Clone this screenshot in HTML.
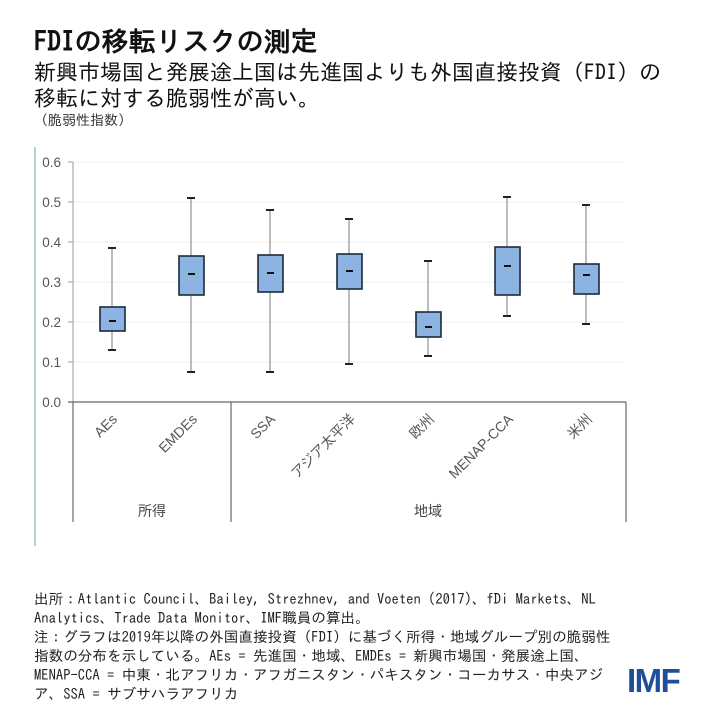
<!DOCTYPE html>
<html><head><meta charset="utf-8"><style>
body{margin:0;width:720px;height:720px;background:#fff;overflow:hidden;position:relative;font-family:"IPAGothic","Noto Sans CJK JP",sans-serif;}
.t{position:absolute;white-space:nowrap;color:#111;}
</style></head><body>
<div class="t" style="left:34px;top:28px;font-size:27px;font-weight:bold;">FDIの移転リスクの測定</div>
<div class="t" style="left:34px;top:61px;font-size:22px;">新興市場国と発展途上国は先進国よりも外国直接投資（FDI）の</div>
<div class="t" style="left:34px;top:87px;font-size:22px;">移転に対する脆弱性が高い。</div>
<div class="t" style="left:34px;top:113px;font-size:14px;color:#333;">（脆弱性指数）</div>
<svg width="720" height="720" style="position:absolute;left:0;top:0" font-family="Liberation Sans, Noto Sans CJK JP, sans-serif">
<line x1="35" y1="147" x2="35" y2="546" stroke="#6aa3a8" stroke-width="1"/>
<g stroke="#eeeeee" stroke-width="1">
<line x1="73" x2="625" y1="162" y2="162"/><line x1="73" x2="625" y1="202" y2="202"/><line x1="73" x2="625" y1="242" y2="242"/><line x1="73" x2="625" y1="282" y2="282"/><line x1="73" x2="625" y1="322" y2="322"/><line x1="73" x2="625" y1="362" y2="362"/>
</g>
<g fill="#555" font-size="13.5" text-anchor="end">
<text x="61" y="167">0.6</text><text x="61" y="207">0.5</text><text x="61" y="247">0.4</text><text x="61" y="287">0.3</text><text x="61" y="327">0.2</text><text x="61" y="367">0.1</text><text x="61" y="407">0.0</text>
</g>
<g stroke="#999" stroke-width="1"><line x1="73" y1="162" x2="73" y2="402"/><line x1="68" y1="162" x2="73" y2="162"/><line x1="68" y1="202" x2="73" y2="202"/><line x1="68" y1="242" x2="73" y2="242"/><line x1="68" y1="282" x2="73" y2="282"/><line x1="68" y1="322" x2="73" y2="322"/><line x1="68" y1="362" x2="73" y2="362"/></g>
<g stroke="#666" stroke-width="1.2"><line x1="68" y1="402" x2="626" y2="402"/><line x1="73" y1="402" x2="73" y2="522"/><line x1="231" y1="402" x2="231" y2="522"/><line x1="626" y1="402" x2="626" y2="522"/></g>
<g stroke="#999" stroke-width="1.3">
<line x1="112" y1="248" x2="112" y2="350"/><line x1="191" y1="198" x2="191" y2="372"/><line x1="270" y1="210" x2="270" y2="372"/><line x1="349" y1="219" x2="349" y2="364"/><line x1="428" y1="261" x2="428" y2="356"/><line x1="507" y1="197" x2="507" y2="316"/><line x1="586" y1="205" x2="586" y2="324"/>
</g>
<g stroke="#222" stroke-width="2">
<line x1="108" x2="116" y1="248" y2="248"/><line x1="108" x2="116" y1="350" y2="350"/>
<line x1="187" x2="195" y1="198" y2="198"/><line x1="187" x2="195" y1="372" y2="372"/>
<line x1="266" x2="274" y1="210" y2="210"/><line x1="266" x2="274" y1="372" y2="372"/>
<line x1="345" x2="353" y1="219" y2="219"/><line x1="345" x2="353" y1="364" y2="364"/>
<line x1="424" x2="432" y1="261" y2="261"/><line x1="424" x2="432" y1="356" y2="356"/>
<line x1="503" x2="511" y1="197" y2="197"/><line x1="503" x2="511" y1="316" y2="316"/>
<line x1="582" x2="590" y1="205" y2="205"/><line x1="582" x2="590" y1="324" y2="324"/>
</g>
<g fill="#8db3e2" stroke="#1a2a3a" stroke-width="1.6">
<rect x="100" y="307" width="25" height="24"/>
<rect x="179" y="256" width="25" height="39"/>
<rect x="258" y="255" width="25" height="37"/>
<rect x="337" y="254" width="25" height="35"/>
<rect x="416" y="312" width="25" height="25"/>
<rect x="495" y="247" width="25" height="48"/>
<rect x="574" y="264" width="25" height="30"/>
</g>
<g stroke="#111" stroke-width="2">
<line x1="109" x2="116" y1="321" y2="321"/><line x1="188" x2="195" y1="274" y2="274"/><line x1="267" x2="274" y1="273" y2="273"/><line x1="346" x2="353" y1="271" y2="271"/><line x1="425" x2="432" y1="327" y2="327"/><line x1="504" x2="511" y1="266" y2="266"/><line x1="583" x2="590" y1="275" y2="275"/>
</g>
<g fill="#555" font-size="14" text-anchor="end">
<text transform="translate(118,420) rotate(-45)">AEs</text>
<text transform="translate(198,420) rotate(-45)">EMDEs</text>
<text transform="translate(276,420) rotate(-45)">SSA</text>
<text transform="translate(356,420) rotate(-45)">アジア太平洋</text>
<text transform="translate(435,420) rotate(-45)">欧州</text>
<text transform="translate(514,420) rotate(-45)">MENAP-CCA</text>
<text transform="translate(593,420) rotate(-45)">米州</text>
</g>
<g fill="#444" font-size="14" text-anchor="middle">
<text x="152" y="516">所得</text><text x="428" y="516">地域</text>
</g>
</svg>
<div class="t" style="left:34px;top:589px;font-size:14.6px;line-height:19px;color:#222;">
出所：Atlantic Council、Bailey, Strezhnev, and Voeten (2017)、fDi Markets、NL<br>
Analytics、Trade Data Monitor、IMF職員の算出。<br>
注：グラフは2019年以降の外国直接投資（FDI）に基づく所得・地域グループ別の脆弱性<br>
指数の分布を示している。AEs = 先進国・地域、EMDEs = 新興市場国・発展途上国、<br>
MENAP-CCA = 中東・北アフリカ・アフガニスタン・パキスタン・コーカサス・中央アジ<br>
ア、SSA = サブサハラアフリカ</div>
<div class="t" style="left:627px;top:662px;font-size:33px;font-weight:bold;color:#1f4e9a;letter-spacing:-1.5px;font-family:'Liberation Sans',sans-serif;">IMF</div>
</body></html>
